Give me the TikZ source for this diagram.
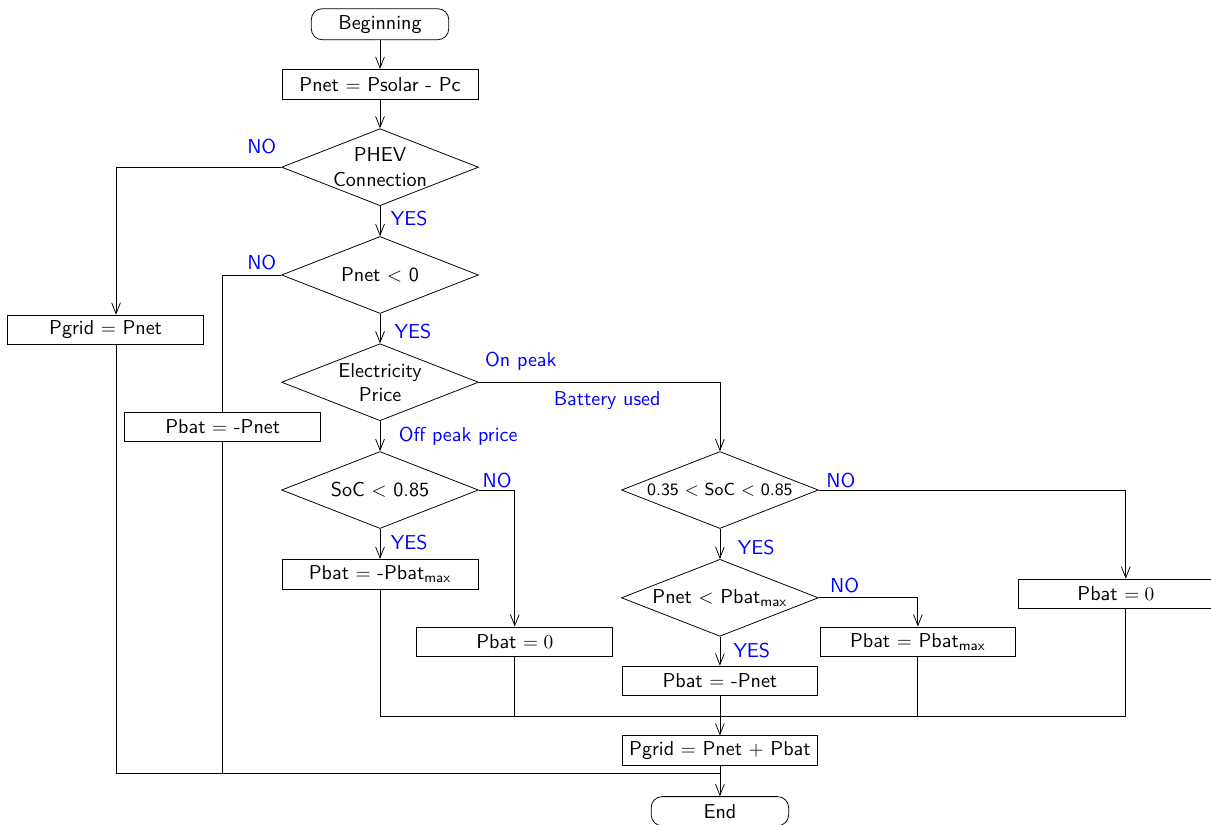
\documentclass[tikz,border=0pt]{standalone}
\usepackage{amsmath,amssymb}
\usetikzlibrary{shapes.geometric,arrows.meta}

\begin{document}
\begin{tikzpicture}[
    every node/.style={font=\sffamily\fontsize{10.4}{12.5}\selectfont},
    block/.style={draw, rectangle, minimum width=3.56cm, minimum height=0.54cm, inner sep=1pt},
    term/.style={draw, rounded corners=0.2cm, minimum width=2.5cm, minimum height=0.53cm},
    test/.style={draw, diamond, aspect=2.56, inner sep=0pt, minimum width=3.58cm, minimum height=1.4cm, align=center},
    answer/.style={text=blue},
    >={Straight Barb[length=2mm,width=1.6mm]}
  ]
  \useasboundingbox (0,0) rectangle (22.02,-15.0);

  % main column
  \node[term] (begin) at (6.91,-0.44) {Beginning};
  \node[block] (pnet) at (6.91,-1.53) {Pnet $=$ Psolar - Pc};
  \node[test] (phev) at (6.91,-3.04) {PHEV\\Connection};
  \node[test] (neg) at (6.91,-5.0) {Pnet $<$ 0};
  \node[test] (price) at (6.91,-6.95) {Electricity\\Price};
  \node[test] (soc) at (6.91,-8.91) {SoC $<$ 0.85};
  \node[block] (pbatmax) at (6.91,-10.44) {Pbat $=$ -Pbat$_{\text{max}}$};
  \node[block] (pbatzero) at (9.36,-11.67) {Pbat $= 0$};

  % left side
  \node[block] (pgrid) at (1.92,-6.0) {Pgrid $=$ Pnet};
  \node[block] (pbatl) at (4.05,-7.76) {Pbat $=$ -Pnet};

  % battery branch
  \node[test, font=\sffamily\small] (range) at (13.09,-8.91) {0.35 $<$ SoC $<$ 0.85};
  \node[test] (lim) at (13.09,-10.87) {Pnet $<$ Pbat$_{\text{max}}$};
  \node[block] (pbatneg) at (13.09,-12.38) {Pbat $=$ -Pnet};
  \node[block] (pbatfull) at (16.69,-11.67) {Pbat $=$ Pbat$_{\text{max}}$};
  \node[block] (pbatoff) at (20.29,-10.8) {Pbat $= 0$};
  \node[block] (pgridsum) at (13.09,-13.65) {Pgrid $=$ Pnet $+$ Pbat};
  \node[term] (end) at (13.09,-14.75) {End};

  % answers
  \node[answer] (no1) at (4.76,-2.67) {NO};
  \node[answer] (yes1) at (7.44,-3.98) {YES};
  \node[answer] (no2) at (4.76,-4.78) {NO};
  \node[answer] (yes2) at (7.51,-6.02) {YES};
  \node[answer] (onpeak) at (9.47,-6.56) {On peak};
  \node[answer] (used) at (11.04,-7.29) {Battery used};
  \node[answer] (offpeak) at (8.33,-7.93) {Off peak price};
  \node[answer] (no3) at (9.04,-8.73) {NO};
  \node[answer] (yes3) at (7.44,-9.87) {YES};
  \node[answer] (no4) at (15.29,-8.73) {NO};
  \node[answer] (yes4) at (13.75,-9.95) {YES};
  \node[answer] (no5) at (15.36,-10.65) {NO};
  \node[answer] (yes5) at (13.67,-11.82) {YES};

  \coordinate (merge) at (0,-13.02);
  \coordinate (sink) at (0,-14.07);

  \draw[->] (begin) -- (pnet);
  \draw[->] (pnet) -- (phev);
  \draw[->] (phev) -- (neg);
  \draw[->] (neg) -- (price);
  \draw[->] (price) -- (soc);
  \draw[->] (soc) -- (pbatmax);
  \draw[->] (range) -- (lim);
  \draw[->] (lim) -- (pbatneg);
  \draw[->] (pbatneg) -- (pgridsum);
  \draw[->] (pgridsum) -- (end);

  \draw[->] (phev.west) -| ([xshift=0.19cm]pgrid.north);
  \draw (neg.west) -| (pbatl.north);
  \draw[->] (price.east) -| (range.north);
  \draw[->] (soc.east) -| (pbatzero.north);
  \draw[->] (range.east) -| ([xshift=0.18cm]pbatoff.north);
  \draw[->] (lim.east) -| (pbatfull.north);

  % joining lines
  \draw (pbatmax.south) -- (pbatmax |- merge) -- ([xshift=0.18cm]pbatoff.south |- merge) -- ([xshift=0.18cm]pbatoff.south);
  \draw (pbatzero.south) -- (pbatzero |- merge);
  \draw (pbatfull.south) -- (pbatfull |- merge);
  \draw ([xshift=0.19cm]pgrid.south) -- ([xshift=0.19cm]pgrid.south |- sink) -- (pgridsum |- sink);
  \draw (pbatl.south) -- (pbatl |- sink);
\end{tikzpicture}
\end{document}
